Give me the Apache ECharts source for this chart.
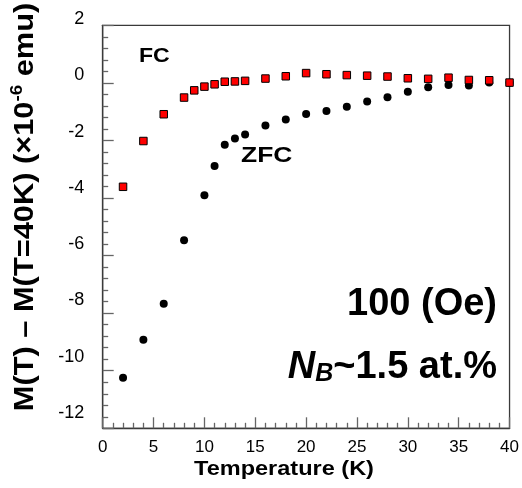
<!DOCTYPE html>
<html><head><meta charset="utf-8">
<script src="https://cdn.jsdelivr.net/npm/echarts@6/dist/echarts.min.js"></script>
<style>html,body{margin:0;padding:0;background:#fff}#c{width:522px;height:488px}</style>
</head><body><div id="c"></div>
<script>
const temps = [2,4,6,8,9,10,11,12,13,14,16,18,20,22,24,26,28,30,32,34,36,38,40];
const fcValues = [-3.61,-2.02,-1.09,-0.51,-0.26,-0.13,-0.05,0.04,0.05,0.07,0.15,0.23,0.34,0.30,0.27,0.25,0.22,0.16,0.14,0.18,0.10,0.09,0.01];
const zfcTemps = [2,4,6,8,10,11,12,13,14,16,18,20,22,24,26,28,30,32,34,36,38,40];
const zfcValues = [-10.24,-8.92,-7.67,-5.47,-3.90,-2.89,-2.15,-1.93,-1.79,-1.48,-1.27,-1.08,-0.98,-0.83,-0.65,-0.50,-0.31,-0.15,-0.07,-0.09,0.01,0.0];
const yTicks = [2,0,-2,-4,-6,-8,-10,-12];
const xTicks = [0,5,10,15,20,25,30,35,40];

const FONT = "'Liberation Sans', Arial, Helvetica, sans-serif";
const chart = echarts.init(document.getElementById('c'), null, {renderer:'canvas'});
const L = 102.7, R = 522-511.7, T = 25.3, B = 488-428.3;
chart.setOption({
  animation:false,
  grid:[
    {left:L, right:R, top:T, bottom:B, show:true, borderColor:'#3a3a3a', borderWidth:1.3, backgroundColor:'transparent'},
    {left:L, right:R, top:19, bottom:488-413}
  ],
  xAxis:[
    {gridIndex:0, type:'value', min:0, max:40, interval:5,
     axisLine:{onZero:false, lineStyle:{color:'#3a3a3a', width:1.3}},
     axisTick:{inside:true, length:11, lineStyle:{color:'#666', width:1.3}},
     minorTick:{show:true, splitNumber:5, length:5.5, lineStyle:{color:'#666', width:1.3}},
     splitLine:{show:false},
     axisLabel:{margin:11, fontSize:17, color:'#000', fontFamily:FONT,
       formatter:v=> xTicks.includes(v)? String(v):''}},
    {gridIndex:1, type:'value', min:0, max:40, show:false}
  ],
  yAxis:[
    {gridIndex:0, type:'value', min:-12, max:2, interval:2,
     axisLine:{show:true, onZero:false, lineStyle:{color:'#3a3a3a', width:1.3}},
     axisTick:{inside:true, length:11, lineStyle:{color:'#666', width:1.3}},
     minorTick:{show:true, splitNumber:5, length:5.5, lineStyle:{color:'#666', width:1.3}},
     splitLine:{show:false},
     axisLabel:{show:false}},
    {gridIndex:1, type:'value', min:-12, max:2, interval:2,
     axisLine:{show:false}, axisTick:{show:false}, splitLine:{show:false},
     axisLabel:{margin:18.5, fontSize:18, color:'#000', fontFamily:FONT,
       formatter:v=> yTicks.includes(v)? String(v):''}}
  ],
  series:[
    {type:'scatter', xAxisIndex:0, yAxisIndex:0, symbol:'circle', symbolSize:8,
     itemStyle:{color:'#000', opacity:1}, data: zfcTemps.map((t,i)=>[t, zfcValues[i]]), z:2},
    {type:'scatter', xAxisIndex:0, yAxisIndex:0, symbol:'rect', symbolSize:7.5,
     itemStyle:{color:'#ff0000', borderColor:'#000', borderWidth:1, opacity:1}, data: temps.map((t,i)=>[t, fcValues[i]]), z:3}
  ],
  graphic:[
    {type:'text', x:139, y:56.5, scaleX:1.1, style:{text:'FC', font:"bold 21px "+FONT, fill:'#000', verticalAlign:'middle'}},
    {type:'text', x:241, y:155.5, scaleX:1.2, style:{text:'ZFC', font:"bold 22px "+FONT, fill:'#000', verticalAlign:'middle'}},
    {type:'text', x:497, y:305, style:{text:'100 (Oe)', font:"bold 38px "+FONT, fill:'#000', align:'right', verticalAlign:'middle'}},
    {type:'text', x:497, y:365, style:{
      text:'{n|N}{s|B}{m|~1.5 at.%}', align:'right', verticalAlign:'middle',
      rich:{
        n:{fontFamily:FONT, fontSize:38, fontWeight:'bold', fontStyle:'italic', fill:'#000', color:'#000', verticalAlign:'bottom', lineHeight:44},
        s:{fontFamily:FONT, fontSize:25, fontWeight:'bold', fontStyle:'italic', fill:'#000', color:'#000', verticalAlign:'bottom', lineHeight:24},
        m:{fontFamily:FONT, fontSize:38, fontWeight:'bold', fill:'#000', color:'#000', verticalAlign:'bottom', lineHeight:44}
      }}},
    {type:'text', x:284, y:469.5, scaleX:1.12, style:{text:'Temperature (K)', font:"bold 21px "+FONT, fill:'#000', align:'center', verticalAlign:'middle'}},
    {type:'text', x:24, y:207, rotation:Math.PI/2, scaleX:1.1, style:{
      text:'{a|M(T) – M(T=40K) (×10}{b|-6}{a| emu)}', align:'center', verticalAlign:'middle',
      rich:{
        a:{fontFamily:FONT, fontSize:28, fontWeight:'bold', fill:'#000', color:'#000', verticalAlign:'bottom', lineHeight:30},
        b:{fontFamily:FONT, fontSize:17, fontWeight:'bold', fill:'#000', color:'#000', verticalAlign:'top', lineHeight:30}
      }}}
  ]
});
</script></body></html>
